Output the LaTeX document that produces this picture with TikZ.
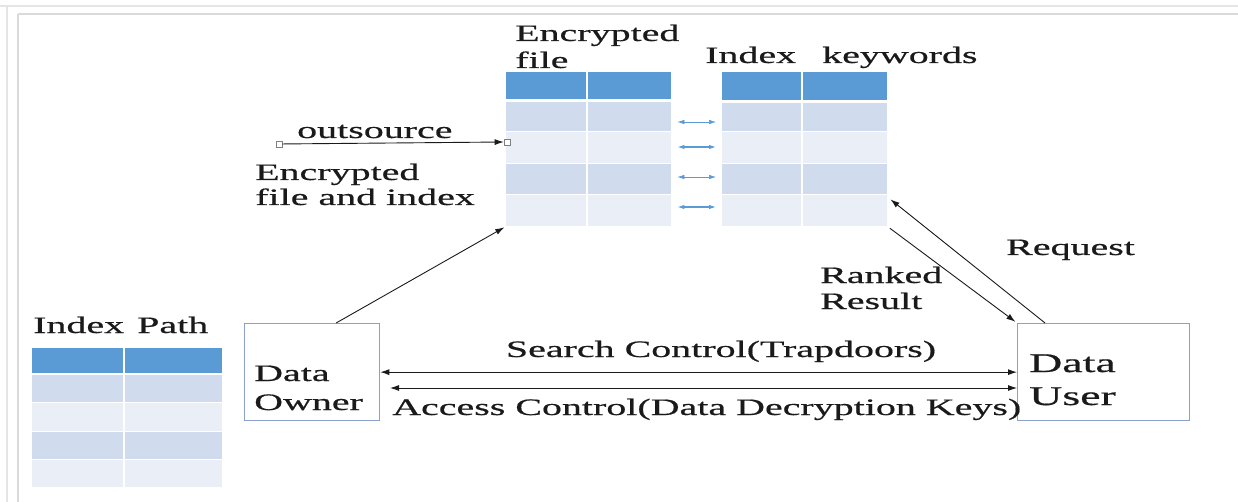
\documentclass[tikz,border=0pt]{standalone}
\usepackage{fontspec}
\setmainfont[FakeStretch=1.7,FakeBold=0.6]{Liberation Serif}
\definecolor{tbhead}{HTML}{5B9BD5}
\definecolor{tbdark}{HTML}{D0DBEE}
\definecolor{tblight}{HTML}{E9EEF7}
\definecolor{boxline}{HTML}{8AA2C8}
\definecolor{txt}{HTML}{1A1A1A}
\definecolor{frame}{HTML}{DADADA}
\usetikzlibrary{arrows.meta}

\begin{document}
\begin{tikzpicture}[x=1pt,y=-1pt,
  lbl/.style={font=\fontsize{23.5}{26}\selectfont,text=txt,inner sep=0pt,align=left},
  actor/.style={draw=boxline,line width=1.3pt,fill=white,anchor=north west},
  tbl/.style={inner sep=0pt,anchor=north west},
  hdr/.style={fill=tbhead},
  rowa/.style={fill=tbdark},
  rowb/.style={fill=tblight},
  arr/.style={-{Latex[length=9pt,width=6pt]},line width=0.9pt,txt},
  dbl/.style={{Latex[length=9pt,width=6pt]}-{Latex[length=9pt,width=6pt]},line width=0.9pt,txt},
  barr/.style={{Latex[length=7pt,width=4.5pt]}-{Latex[length=7pt,width=4.5pt]},tbhead},
  handle/.style={draw=gray,fill=white,line width=0.6pt,minimum size=6pt,inner sep=0pt}]
  \useasboundingbox (0,0) rectangle (1238,502);
  % window frame
  \draw[frame!70,line width=1.5pt] (0,6) -- (1238,6) (7,6) -- (7,502);
  \draw[frame,line width=2pt] (18,14) -- (1238,14) (18,14) -- (18,502);
  % encrypted file table
  \node[tbl,minimum width=165pt,minimum height=154pt] (encf) at (506,72) {};
  \fill[hdr] (506,72) rectangle (671,99);
  \fill[rowa] (506,102) rectangle (671,131);
  \fill[rowb] (506,131) rectangle (671,163);
  \fill[rowa] (506,163) rectangle (671,194);
  \fill[rowb] (506,194) rectangle (671,226);
  \draw[white,line width=2pt] (587,72) -- (587,226);
  \foreach \y in {131,163,194} \draw[white,line width=0.8pt] (506,\y) -- (671,\y);
  \node[lbl,font=\fontsize{23.5}{27}\selectfont,anchor=base west] (encftitle) at (515,68) {Encrypted\\file};
  % index keywords table
  \node[tbl,minimum width=165pt,minimum height=154pt] (kwt) at (722,72) {};
  \fill[hdr] (722,72) rectangle (887,100);
  \fill[rowa] (722,103) rectangle (887,131);
  \fill[rowb] (722,131) rectangle (887,163);
  \fill[rowa] (722,163) rectangle (887,194);
  \fill[rowb] (722,194) rectangle (887,226);
  \draw[white,line width=2pt] (802,72) -- (802,226);
  \foreach \y in {131,163,194} \draw[white,line width=0.8pt] (722,\y) -- (887,\y);
  \node[lbl,anchor=base west] (kwidx) at (705,63) {Index};
  \node[lbl,anchor=base west] (kwkey) at (822,63) {keywords};
  % links between the two tables
  \foreach \y/\w in {122/0.6pt,147/1.1pt,177/0.6pt,207/1.1pt}
    \draw[barr,line width=\w,shorten <=6pt,shorten >=6pt] (encf.east |- 0,\y) -- (kwt.west |- 0,\y);
  % index path table
  \node[tbl,minimum width=190pt,minimum height=139pt] (ipt) at (32,348) {};
  \fill[hdr] (32,348) rectangle (222,373);
  \fill[rowa] (32,375) rectangle (222,402);
  \fill[rowb] (32,402) rectangle (222,431);
  \fill[rowa] (32,431) rectangle (222,459);
  \fill[rowb] (32,459) rectangle (222,487);
  \draw[white,line width=2pt] (124,348) -- (124,487);
  \foreach \y in {402,431,459} \draw[white,line width=0.8pt] (32,\y) -- (222,\y);
  \node[lbl,anchor=base west] (iptidx) at (33,333) {Index};
  \node[lbl,anchor=base west] (iptpath) at (137,333) {Path};
  % owner and user
  \node[actor,minimum width=135pt,minimum height=97pt] (owner) at (244,323) {};
  \node[lbl,font=\fontsize{23.5}{29}\selectfont,anchor=base west] (ownertxt) at (254,410) {Data\\Owner};
  \node[actor,minimum width=172pt,minimum height=97pt] (user) at (1017,323) {};
  \node[lbl,font=\fontsize{27}{33}\selectfont,anchor=base west] (usertxt) at (1029,405) {Data\\User};
  % outsource
  \node[handle] (osA) at (279,144) {};
  \node[handle] (osB) at (507,142) {};
  \draw[arr] (osA) -- (osB.west);
  \node[lbl,anchor=base west] (ostxt) at (297,138) {outsource};
  \node[lbl,font=\fontsize{23.5}{25}\selectfont,anchor=base west] (efitxt) at (255,205) {Encrypted\\file and index};
  \draw[arr,shorten >=2pt] (owner.64) -- (encf.south west);
  % search and access control
  \draw[dbl] (owner.east) -- (user.west);
  \node[lbl,anchor=base] (srchtxt) at (721,357) {Search Control(Trapdoors)};
  \coordinate (acc) at (390,388);
  \draw[dbl] (acc) -- (acc -| user.west);
  \node[lbl,anchor=base west] (acctxt) at (392,415) {Access Control(Data Decryption Keys)};
  % ranked result and request
  \draw[arr,shorten <=3pt,shorten >=2pt] (kwt.south east) -- (user.north west);
  \node[lbl,font=\fontsize{23.5}{26}\selectfont,anchor=base west] (rnktxt) at (820,309) {Ranked\\Result};
  \draw[arr,shorten >=4pt] (user.140) -- (kwt.-30);
  \node[lbl,anchor=base west] (reqtxt) at (1006,255) {Request};
\end{tikzpicture}
\end{document}
